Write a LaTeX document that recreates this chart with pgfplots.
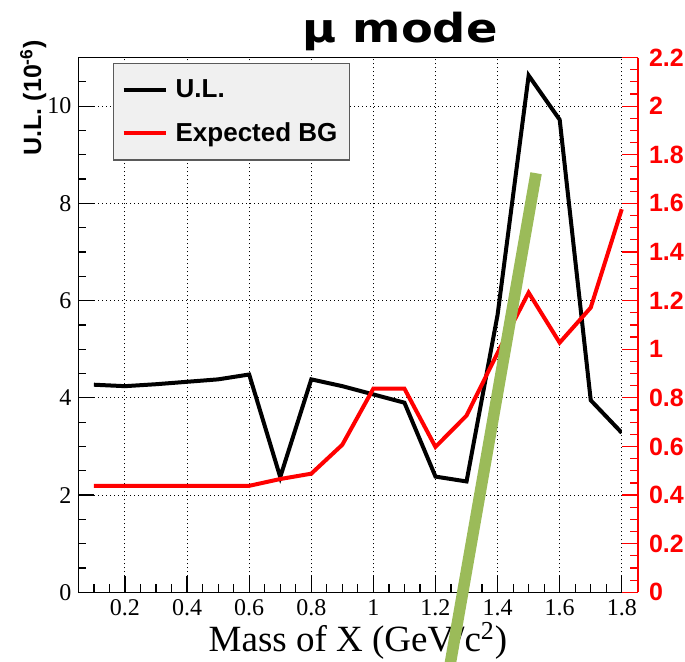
\documentclass[border=0pt]{standalone}
\usepackage{fontspec}
\setmainfont{Liberation Serif}
\setsansfont{Liberation Sans}
\newfontfamily\titlefont{DejaVu Sans}
\usepackage{pgfplots}
\pgfplotsset{compat=1.18}
\definecolor{olivegreen}{RGB}{155,187,89}
\definecolor{legfill}{RGB}{240,240,240}
\definecolor{legdraw}{RGB}{90,90,90}

\begin{document}
\begin{tikzpicture}
\path[use as bounding box] (-39.2pt,-34.35pt) rectangle (303.3pt,296.15pt);
% left axis: U.L.
\begin{axis}[at={(0,0)},anchor=south west,scale only axis,width=271.7pt,height=267.4pt,
  xmin=0.05,xmax=1.8,ymin=0,ymax=11,
  axis x line*=box,axis y line*=left,tick pos=left,tick align=inside,
  major tick length=8pt,minor tick length=4pt,
  xtick={0.2,0.4,0.6,0.8,1,1.2,1.4,1.6,1.8},xticklabels={0.2,0.4,0.6,0.8,1,1.2,1.4,1.6,1.8},
  minor xtick={0.05,0.1,...,1.8},
  ytick={0,2,4,6,8,10},yticklabels={0,2,4,6,8,10},minor ytick={0,0.5,...,11},
  grid=major,grid style={black,line width=0.5pt,dash pattern=on 0.5pt off 1.5pt},
  axis line style={line width=0.6pt},tick style={black,line width=0.6pt},
  tick label style={font=\fontsize{12}{14}\selectfont},
  /pgf/number format/assume math mode=true,
  xlabel={Mass of X (GeV/c\textsuperscript{2})},
  xlabel style={font=\fontsize{18.5}{20}\selectfont,at={(rel axis cs:0.5145,0)},anchor=base,yshift=-29.7pt},
  ylabel={U.L. (10\textsuperscript{-6})},
  ylabel style={font=\fontsize{12.5}{14}\sffamily\bfseries,at={(rel axis cs:0,1)},anchor=west,inner sep=0pt,xshift=-49.1pt,yshift=22.55pt},
  title={\titlefont\bfseries μ mode},
  title style={font=\fontsize{20}{23}\selectfont,at={(rel axis cs:0.5918,1)},anchor=base,yshift=1.75pt,xscale=1.16},
  legend style={at={(rel axis cs:0.0637,0.9903)},anchor=north west,fill=legfill,draw=legdraw,line width=0.6pt,
    font=\fontsize{13}{15}\sffamily\bfseries,inner xsep=4pt,inner ysep=6pt,row sep=7pt,column sep=2pt},
  legend cell align=left,
  legend image code/.code={\draw[#1] (0pt,0pt) -- (21pt,0pt);},
]
\addplot[black,line width=2pt] coordinates {(0.1,4.27) (0.2,4.24) (0.3,4.28) (0.4,4.33) (0.5,4.38) (0.6,4.48) (0.7,2.37) (0.8,4.38) (0.9,4.24) (1.0,4.07) (1.1,3.90) (1.2,2.38) (1.3,2.28) (1.4,5.71) (1.5,10.63) (1.6,9.72) (1.7,3.95) (1.8,3.28)};
\addlegendentry{U.L.}
\addlegendimage{red,line width=2pt}
\addlegendentry{Expected BG\hspace{10.75pt}}
\end{axis}
% right axis: expected background
\begin{axis}[at={(0,0)},anchor=south west,scale only axis,width=279.8pt,height=267.4pt,
  xmin=0.05,xmax=1.8523,ymin=0,ymax=2.2,
  axis x line=none,axis y line*=right,xtick=\empty,
  y axis line style={red,line width=0.6pt},
  tick align=inside,major tick length=8pt,minor tick length=4pt,
  tick style={red,line width=0.6pt},
  ytick={0,0.2,0.4,0.6,0.8,1,1.2,1.4,1.6,1.8,2,2.2},
  yticklabels={0,0.2,0.4,0.6,0.8,1,1.2,1.4,1.6,1.8,2,2.2},
  minor ytick={0,0.05,...,2.2},
  yticklabel style={font=\fontsize{12.5}{14}\sffamily\bfseries,text=red,xshift=2pt},
  clip=false,
]
\addplot[red,line width=2pt] coordinates {(0.1,0.438) (0.2,0.438) (0.3,0.438) (0.4,0.438) (0.5,0.438) (0.6,0.438) (0.7,0.466) (0.8,0.488) (0.9,0.607) (1.0,0.838) (1.1,0.838) (1.2,0.598) (1.3,0.727) (1.4,0.985) (1.5,1.233) (1.6,1.027) (1.7,1.171) (1.8,1.576)};
\addplot[olivegreen,line width=5.75pt] coordinates {(1.2358,-0.38) (1.524,1.724)};
\end{axis}
\end{tikzpicture}
\end{document}
